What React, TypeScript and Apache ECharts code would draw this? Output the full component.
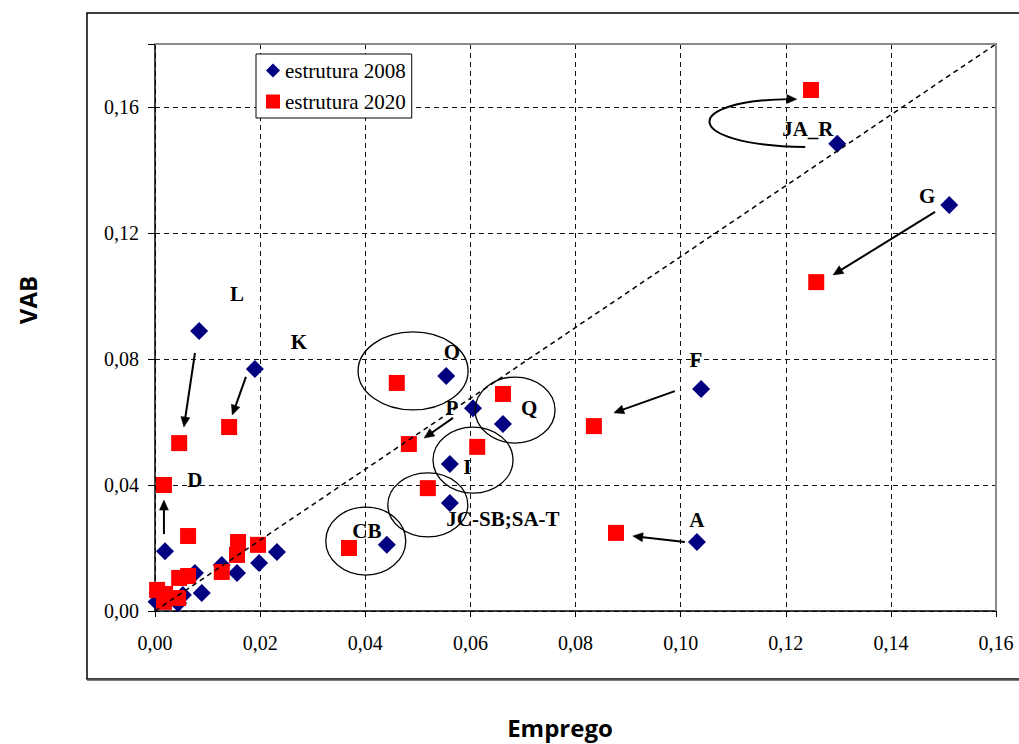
import React, { useEffect, useRef } from "react";
import * as echarts from "echarts";

// Labelled sectors (same order in every array)
const sectors = ["JA_R", "G", "F", "A", "O", "P", "Q", "I", "JC-SB;SA-T", "CB", "L", "K", "D"];
const emp2008 = [0.1298, 0.1511, 0.1039, 0.1031, 0.0554, 0.0605, 0.0662, 0.0561, 0.0561, 0.0441, 0.0084, 0.019, 0.0019];
const vab2008 = [0.1483, 0.1289, 0.0705, 0.0219, 0.0746, 0.0644, 0.0594, 0.0467, 0.0343, 0.021, 0.0889, 0.0768, 0.019];
const emp2020 = [0.1248, 0.1258, 0.0835, 0.0877, 0.046, 0.0483, 0.0662, 0.0613, 0.0519, 0.0369, 0.0046, 0.0141, 0.0017];
const vab2020 = [0.1654, 0.1044, 0.0587, 0.0248, 0.0724, 0.053, 0.0689, 0.0521, 0.039, 0.02, 0.0533, 0.0584, 0.04];

// Remaining small sectors (unlabelled)
const empOther2008 = [0.0232, 0.0198, 0.0156, 0.0127, 0.0089, 0.0076, 0.0053, 0.0044, 0.0003];
const vabOther2008 = [0.0187, 0.0152, 0.0121, 0.0146, 0.0057, 0.0121, 0.0051, 0.0025, 0.0029];
const empOther2020 = [0.0158, 0.0196, 0.0156, 0.0127, 0.0063, 0.0063, 0.0046, 0.0044, 0.0019, 0.0004, 0.0017];
const vabOther2020 = [0.0219, 0.021, 0.0178, 0.0124, 0.0238, 0.0111, 0.0105, 0.0041, 0.0054, 0.0067, 0.0029];

// Reference diagonal
const diagEmp = [0, 0.16];
const diagVab = [0, 0.18];

// Axis ticks
const xTicks = [0, 0.02, 0.04, 0.06, 0.08, 0.1, 0.12, 0.14, 0.16];
const yTicks = [0, 0.04, 0.08, 0.12, 0.16];

// Annotation placement (data coordinates), in sector order
const labelAt: number[][] = [
  [0.1242, 0.153], [0.1469, 0.1317], [0.1029, 0.0797], [0.1031, 0.0289], [0.0565, 0.0822],
  [0.0565, 0.0644], [0.0712, 0.0644], [0.0594, 0.0457], [0.0662, 0.0292], [0.0403, 0.0254],
  [0.0156, 0.1006], [0.0274, 0.0854], [0.0076, 0.0416],
];
const arrows: { from: number[]; to: number[] }[] = [
  { from: [0.1484, 0.1267], to: [0.129, 0.1067] },
  { from: [0.0989, 0.0698], to: [0.0873, 0.0629] },
  { from: [0.1008, 0.0219], to: [0.0909, 0.0238] },
  { from: [0.0567, 0.0613], to: [0.0512, 0.0549] },
  { from: [0.0076, 0.0819], to: [0.0055, 0.0584] },
  { from: [0.0173, 0.0743], to: [0.0147, 0.0622] },
  { from: [0.0017, 0.0244], to: [0.0017, 0.0352] },
];
const curvedArrow = { from: [0.1237, 0.1473], cp1: [0.0999, 0.1479], cp2: [0.0999, 0.1622], to: [0.1221, 0.1625] };
const ellipses: { c: number[]; rx: number; ry: number }[] = [
  { c: [0.0491, 0.0762], rx: 55, ry: 39 },
  { c: [0.0685, 0.0638], rx: 40, ry: 33 },
  { c: [0.0605, 0.0479], rx: 40, ry: 33 },
  { c: [0.0519, 0.0337], rx: 40, ry: 32 },
  { c: [0.0401, 0.0222], rx: 40, ry: 34 },
];

const fmt = (v: number) => v.toFixed(2).replace(".", ",");

export default function App() {
  const ref = useRef<HTMLDivElement>(null);
  useEffect(() => {
    if (!ref.current) return;
    const chart = echarts.init(ref.current, undefined, { renderer: "svg" });
    const d2008 = [
      ...emp2008.map((x, i) => [x, vab2008[i]]),
      ...empOther2008.map((x, i) => [x, vabOther2008[i]]),
    ];
    const d2020 = [
      ...emp2020.map((x, i) => [x, vab2020[i]]),
      ...empOther2020.map((x, i) => [x, vabOther2020[i]]),
    ];
    const serif = "Liberation Serif";
    chart.setOption({
      animation: false,
      backgroundColor: "#fff",
      grid: { left: 155, right: 23, top: 44, bottom: 133, show: false },
      legend: {
        left: 256,
        top: 54,
        orient: "vertical",
        borderColor: "#000",
        borderWidth: 1,
        backgroundColor: "#fff",
        padding: [6, 6, 6, 10],
        itemGap: 10,
        itemWidth: 14,
        itemHeight: 14,
        textStyle: { fontFamily: serif, fontSize: 21, color: "#000" },
        data: [
          { name: "estrutura 2008", icon: "diamond" },
          { name: "estrutura 2020", icon: "rect" },
        ],
      },
      xAxis: {
        type: "value",
        min: xTicks[0],
        max: xTicks[xTicks.length - 1],
        interval: 0.02,
        axisLine: { show: true, lineStyle: { color: "#000", width: 1.5 } },
        axisTick: { show: true, length: 6, lineStyle: { color: "#000" } },
        axisLabel: { margin: 22, fontFamily: serif, fontSize: 20, color: "#000", formatter: (v: number) => fmt(v) },
        splitLine: { show: true, lineStyle: { type: [5, 4], color: "#111", width: 1 } },
      },
      yAxis: {
        type: "value",
        min: yTicks[0],
        max: 0.18,
        interval: 0.04,
        axisLine: { show: true, lineStyle: { color: "#000", width: 1.5 } },
        axisTick: { show: true, length: 7, lineStyle: { color: "#000" } },
        axisLabel: {
          margin: 16,
          fontFamily: serif,
          fontSize: 20,
          color: "#000",
          formatter: (v: number) => (v > yTicks[yTicks.length - 1] + 0.001 ? "" : fmt(v)),
        },
        splitLine: { show: true, lineStyle: { type: [5, 4], color: "#111", width: 1 } },
      },
      series: [
        {
          name: "estrutura 2008",
          type: "scatter",
          symbol: "diamond",
          symbolSize: 18,
          itemStyle: { color: "#000080", opacity: 1 },
          emphasis: { disabled: true },
          data: d2008,
          z: 3,
        },
        {
          name: "estrutura 2020",
          type: "scatter",
          symbol: "rect",
          symbolSize: 16,
          itemStyle: { color: "#ff0000", opacity: 1 },
          emphasis: { disabled: true },
          data: d2020,
          z: 4,
        },
        {
          name: "diagonal",
          type: "line",
          symbol: "none",
          data: diagEmp.map((x, i) => [x, diagVab[i]]),
          lineStyle: { type: [5, 4], color: "#000", width: 1.5 },
          z: 5,
        },
      ],
    });

    const px = (p: number[]) => chart.convertToPixel({ gridIndex: 0 }, p) as number[];
    const elements: any[] = [];
    const black = "#000";

    const head = (tip: number[], from: number[]) => {
      const dx = tip[0] - from[0];
      const dy = tip[1] - from[1];
      const len = Math.hypot(dx, dy) || 1;
      const ux = dx / len, uy = dy / len;
      const L = 10, W = 4.5;
      const bx = tip[0] - ux * L, by = tip[1] - uy * L;
      return {
        type: "polygon",
        z: 100,
        shape: { points: [tip, [bx - uy * W, by + ux * W], [bx + uy * W, by - ux * W]] },
        style: { fill: black, stroke: black, lineWidth: 0.5 },
      };
    };

    // outer frame
    elements.push({
      type: "rect",
      z: 1,
      shape: { x: 87, y: 13, width: 1000, height: 666 },
      style: { fill: "none", stroke: black, lineWidth: 1.5 },
    });
    elements.push({
      type: "line",
      z: 1,
      shape: { x1: 87, y1: 680, x2: 1019, y2: 680 },
      style: { stroke: "#555", lineWidth: 1.5 },
    });

    // plot border top/right (gray)
    const tl = px([xTicks[0], 0.18]);
    const tr = px([xTicks[xTicks.length - 1], 0.18]);
    const br = px([xTicks[xTicks.length - 1], 0]);
    elements.push({
      type: "polyline",
      z: 90,
      shape: { points: [tl, tr, br] },
      style: { fill: "none", stroke: "#8a8a8a", lineWidth: 2 },
    });

    // ellipses
    ellipses.forEach((e) => {
      const c = px(e.c);
      elements.push({
        type: "ellipse",
        z: 100,
        shape: { cx: c[0], cy: c[1], rx: e.rx, ry: e.ry },
        style: { fill: "none", stroke: black, lineWidth: 1.3 },
      });
    });

    // straight arrows
    arrows.forEach((a) => {
      const p0 = px(a.from);
      const p1 = px(a.to);
      const dx = p1[0] - p0[0], dy = p1[1] - p0[1];
      const len = Math.hypot(dx, dy) || 1;
      const end = [p1[0] - (dx / len) * 8, p1[1] - (dy / len) * 8];
      elements.push({
        type: "line",
        z: 100,
        shape: { x1: p0[0], y1: p0[1], x2: end[0], y2: end[1] },
        style: { stroke: black, lineWidth: 2 },
      });
      elements.push(head(p1, p0));
    });

    // curved arrow
    {
      const p0 = px(curvedArrow.from);
      const c1 = px(curvedArrow.cp1);
      const c2 = px(curvedArrow.cp2);
      const p1 = px(curvedArrow.to);
      elements.push({
        type: "bezierCurve",
        z: 100,
        shape: { x1: p0[0], y1: p0[1], cpx1: c1[0], cpy1: c1[1], cpx2: c2[0], cpy2: c2[1], x2: p1[0] - 6, y2: p1[1] },
        style: { fill: "none", stroke: black, lineWidth: 2 },
      });
      elements.push(head(p1, [c2[0] + 60, c2[1] - 1]));
    }

    // sector labels
    sectors.forEach((s, i) => {
      const p = px(labelAt[i]);
      elements.push({
        type: "text",
        z: 110,
        x: p[0],
        y: p[1],
        style: {
          text: s,
          font: 'bold 21px "Liberation Serif"',
          fill: black,
          align: "center",
          verticalAlign: "middle",
          textAlign: "center",
          textVerticalAlign: "middle",
        },
      });
    });

    // axis titles
    elements.push({
      type: "text",
      z: 110,
      x: 27,
      y: 300,
      rotation: Math.PI / 2,
      style: {
        text: "VAB",
        font: 'bold 24px "Open Sans"',
        fill: black,
        align: "center",
        verticalAlign: "middle",
        textAlign: "center",
        textVerticalAlign: "middle",
      },
    });
    elements.push({
      type: "text",
      z: 110,
      x: 560,
      y: 727,
      style: {
        text: "Emprego",
        font: 'bold 24px "Open Sans"',
        fill: black,
        align: "center",
        verticalAlign: "middle",
        textAlign: "center",
        textVerticalAlign: "middle",
      },
    });

    chart.setOption({ graphic: { elements } });

    return () => chart.dispose();
  }, []);

  return (
    <div
      ref={ref}
      style={{ position: "fixed", left: 0, top: 0, width: 1019, height: 744, background: "#fff" }}
    />
  );
}
